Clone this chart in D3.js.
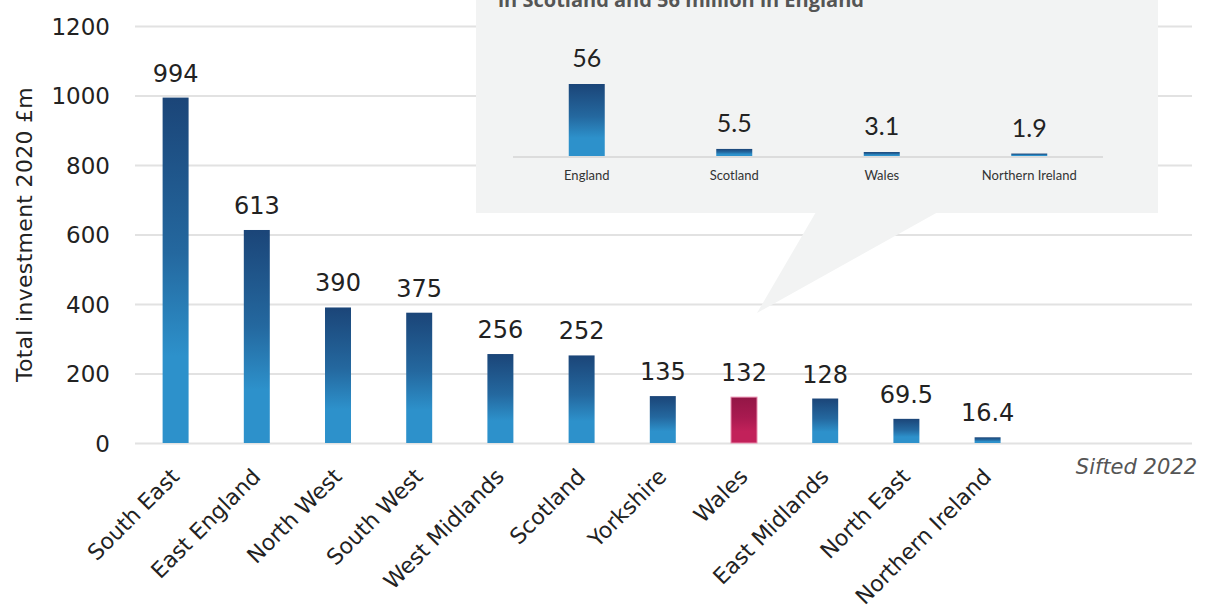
<!DOCTYPE html>
<html>
<head>
<meta charset="utf-8">
<script src="https://cdn.jsdelivr.net/npm/d3@7"></script>
<style>
  html, body { margin: 0; padding: 0; background: #ffffff; }
  svg { display: block; font-family: "DejaVu Sans", "Lato", sans-serif; }
</style>
</head>
<body>
<svg id="chart" width="1213" height="613"></svg>
<script>
// Regional totals, 2020 (£m)
const regions = ["South East", "East England", "North West", "South West", "West Midlands",
                 "Scotland", "Yorkshire", "Wales", "East Midlands", "North East", "Northern Ireland"];
const totals = [994, 613, 390, 375, 256, 252, 135, 132, 128, 69.5, 16.4];
const highlighted = ["Wales"];
const yTicks = [0, 200, 400, 600, 800, 1000, 1200];

// Inset: nations
const nations = ["England", "Scotland", "Wales", "Northern Ireland"];
const nationValues = [56, 5.5, 3.1, 1.9];
const nationLabels = ["56", "5.5", "3.1", "1.9"];

const insetTitle = "in Scotland and 56 million in England";
const sourceNote = "Sifted 2022";
const yTitle = "Total investment 2020 £m";

const svg = d3.select("#chart");
const defs = svg.append("defs");

function vGradient(id, top, mid, bottom) {
  const g = defs.append("linearGradient").attr("id", id)
    .attr("x1", 0).attr("y1", 0).attr("x2", 0).attr("y2", 1);
  g.append("stop").attr("offset", "0%").attr("stop-color", top);
  g.append("stop").attr("offset", "45%").attr("stop-color", mid);
  g.append("stop").attr("offset", "75%").attr("stop-color", bottom);
  g.append("stop").attr("offset", "100%").attr("stop-color", bottom);
}
vGradient("blueGrad", "#1b4578", "#24689f", "#2d91cb");
vGradient("redGrad", "#931646", "#a91a50", "#c2215a");

// Main chart scales
const plotLeft = 135, plotRight = 1192;
const x = d3.scaleBand().domain(regions)
  .range([plotLeft, plotLeft + 81.2 * regions.length])
  .paddingInner(0.68).paddingOuter(0.34);
const y = d3.scaleLinear().domain([0, 1200]).range([443, 26]);

// Gridlines and y labels
const yAxis = d3.axisLeft(y).tickValues(yTicks).tickFormat(d3.format("d"))
  .tickSize(-(plotRight - plotLeft)).tickPadding(25);
const gy = svg.append("g").attr("transform", `translate(${plotLeft},0)`).call(yAxis);
gy.attr("font-family", null).attr("font-size", null);
gy.select(".domain").remove();
gy.selectAll(".tick line").attr("stroke", "#e2e2e2").attr("stroke-width", 2);
gy.selectAll(".tick text").attr("fill", "#222")
  .style("font-size", "23px").style("font-family", "'DejaVu Sans', sans-serif")
  .attr("dy", "0.35em");

// Axis title
svg.append("text")
  .attr("transform", `translate(32,${(y(0) + y(1200)) / 2}) rotate(-90)`)
  .attr("text-anchor", "middle")
  .style("font-size", "22px").style("letter-spacing", "0.3px").attr("fill", "#222")
  .text(yTitle);

// Callout box with pointer
const callout = svg.append("g");
callout.append("rect")
  .attr("x", 476).attr("y", -10).attr("width", 682).attr("height", 223)
  .attr("fill", "#f2f3f3");
callout.append("path")
  .attr("d", "M816,212 L938,212 L757,313 Z")
  .attr("fill", "#f2f3f3");

// Bars
svg.append("g").selectAll("rect").data(regions).join("rect")
  .attr("x", d => x(d))
  .attr("width", x.bandwidth())
  .attr("y", (d, i) => y(totals[i]))
  .attr("height", (d, i) => y(0) - y(totals[i]))
  .attr("fill", d => highlighted.includes(d) ? "url(#redGrad)" : "url(#blueGrad)")
  .attr("stroke", d => highlighted.includes(d) ? "#e889ab" : "none")
  .attr("stroke-width", d => highlighted.includes(d) ? 1 : 0);

// Value labels
svg.append("g").selectAll("text").data(regions).join("text")
  .attr("x", d => x(d) + x.bandwidth() / 2)
  .attr("y", (d, i) => y(totals[i]) - 16)
  .attr("text-anchor", "middle")
  .style("font-size", "24px").attr("fill", "#222")
  .text((d, i) => String(totals[i]));

// Category labels, rotated
svg.append("g").selectAll("text").data(regions).join("text")
  .attr("transform", d => `translate(${x(d) + x.bandwidth() / 2 + 5},${478}) rotate(-45)`)
  .attr("text-anchor", "end")
  .style("font-size", "22px").attr("fill", "#222")
  .text(d => d);

// Source note
svg.append("text")
  .attr("x", 1197).attr("y", 474)
  .attr("text-anchor", "end")
  .style("font-size", "21px").style("font-style", "italic").attr("fill", "#555")
  .text(sourceNote);

// Inset chart
callout.append("text")
  .attr("x", 498).attr("y", 7)
  .style("font-family", "'Open Sans', sans-serif")
  .style("font-size", "20px").style("font-weight", "bold").attr("fill", "#555")
  .text(insetTitle);

const xi = d3.scaleBand().domain(nations).range([513, 1103])
  .paddingInner(0.756).paddingOuter(0.378);
const yi = d3.scaleLinear().domain([0, 56]).range([156, 84]);

callout.append("line")
  .attr("x1", 513).attr("x2", 1103).attr("y1", yi(0) + 1).attr("y2", yi(0) + 1)
  .attr("stroke", "#dcdcdc").attr("stroke-width", 2);

callout.append("g").selectAll("rect").data(nations).join("rect")
  .attr("x", d => xi(d))
  .attr("width", xi.bandwidth())
  .attr("y", (d, i) => yi(nationValues[i]))
  .attr("height", (d, i) => yi(0) - yi(nationValues[i]))
  .attr("fill", "url(#blueGrad)");

callout.append("g").selectAll("text.val").data(nations).join("text")
  .attr("class", "val")
  .attr("x", d => xi(d) + xi.bandwidth() / 2)
  .attr("y", (d, i) => yi(nationValues[i]) - 17)
  .attr("text-anchor", "middle")
  .style("font-family", "'Lato', sans-serif")
  .style("font-size", "25px").attr("fill", "#222")
  .text((d, i) => nationLabels[i]);

callout.append("g").selectAll("text.cat").data(nations).join("text")
  .attr("class", "cat")
  .attr("x", d => xi(d) + xi.bandwidth() / 2)
  .attr("y", 180)
  .attr("text-anchor", "middle")
  .style("font-family", "'Lato', sans-serif")
  .style("font-size", "13px").attr("fill", "#333")
  .text(d => d);
</script>
</body>
</html>
